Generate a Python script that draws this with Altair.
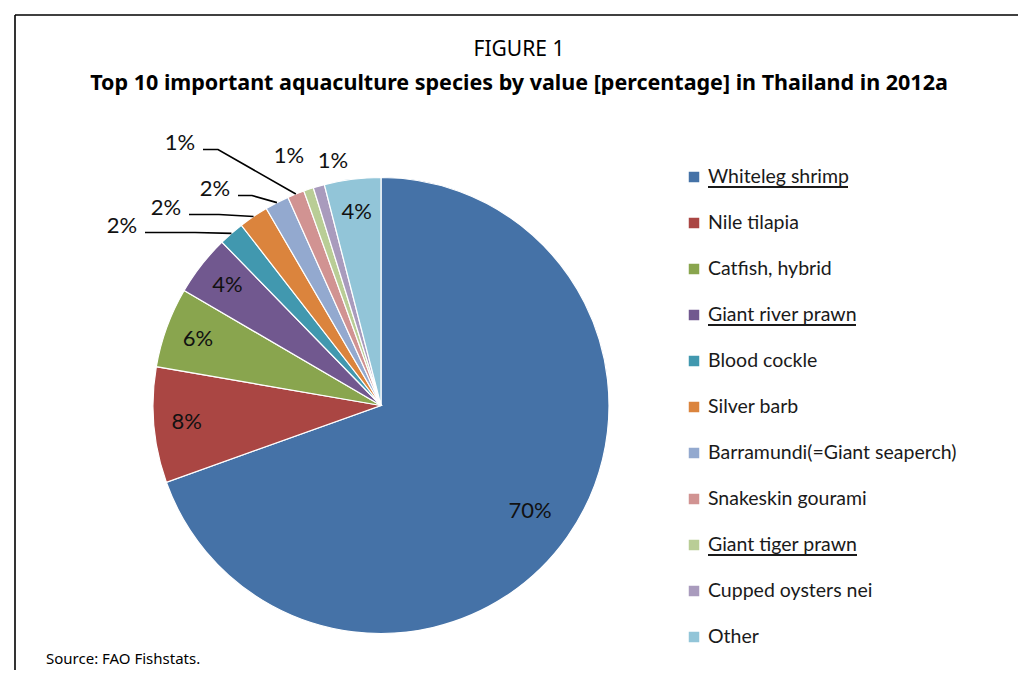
import math
import altair as alt
import pandas as pd

# ---------------- data ----------------
species = [
    "Whiteleg shrimp", "Nile tilapia", "Catfish, hybrid", "Giant river prawn",
    "Blood cockle", "Silver barb", "Barramundi(=Giant seaperch)",
    "Snakeskin gourami", "Giant tiger prawn", "Cupped oysters nei", "Other",
]
values = [69.6, 8.2, 5.7, 4.3, 1.8, 2.1, 1.7, 1.2, 0.7, 0.8, 4.0]
underlined = ["Whiteleg shrimp", "Giant river prawn", "Giant tiger prawn"]
colors = ["#4572A7", "#AA4643", "#89A54E", "#71588F", "#4198AF", "#DB843D",
          "#93A9CF", "#D19392", "#B9CD96", "#A99BBD", "#92C5D8"]

title_top = "FIGURE 1"
title_main = "Top 10 important aquaculture species by value [percentage] in Thailand in 2012a"
source_text = "Source: FAO Fishstats."

# ---------------- layout (style only) ----------------
W, H = 1010, 662
CX, CY, R = 373.0, 397.5, 228.0
LABEL_FONT = "Lato"
TITLE_FONT = "Noto Sans"
inside_r = {"Whiteleg shrimp": 0.80}
inside_default = 0.855
# outside labels: label centre offset from pie centre, elbow length
outside = {
    "Blood cockle": dict(dx=-259, dy=-180, elbow=50),
    "Silver barb": dict(dx=-215, dy=-198, elbow=30),
    "Barramundi(=Giant seaperch)": dict(dx=-166, dy=-217, elbow=14),
    "Snakeskin gourami": dict(dx=-201, dy=-263, elbow=15),
    "Giant tiger prawn": dict(dx=-92, dy=-250, elbow=None),
    "Cupped oysters nei": dict(dx=-48, dy=-245, elbow=None),
}
LEG_X, LEG_Y0, LEG_DY = 686, 169, 46.0

# ---------------- derived tables ----------------
total = sum(values)
pie_df = pd.DataFrame({"species": species, "value": values, "order": list(range(len(species)))})

lab_rows, line_rows = [], []
cum = 0.0
for i, (s, v) in enumerate(zip(species, values)):
    mid = (cum + v / 2) / total * 2 * math.pi
    cum += v
    txt = f"{round(v)}%"
    ex, ey = CX + R * math.sin(mid), CY - R * math.cos(mid)
    if s in outside:
        o = outside[s]
        lx, ly = CX + o["dx"], CY + o["dy"]
        lab_rows.append(dict(x=lx, y=ly, t=txt))
        if o["elbow"] is not None:
            sx, sy = lx + 23, ly + 7
            pts = [(sx, sy), (sx + o["elbow"], sy), (ex, ey)]
            for k, (px, py) in enumerate(pts):
                line_rows.append(dict(g=s, k=k, x=px, y=py))
    else:
        rf = inside_r.get(s, inside_default) * R
        lab_rows.append(dict(x=CX + rf * math.sin(mid), y=CY - rf * math.cos(mid), t=txt))
lab_df = pd.DataFrame(lab_rows)
line_df = pd.DataFrame(line_rows)

leg_df = pd.DataFrame({
    "species": species,
    "x": [LEG_X] * len(species),
    "tx": [LEG_X + 14] * len(species),
    "y": [LEG_Y0 + i * LEG_DY for i in range(len(species))],
})
ul_len = {"Whiteleg shrimp": 140, "Giant river prawn": 148, "Giant tiger prawn": 149}
ul_df = pd.DataFrame({
    "x": [LEG_X + 14 for s in underlined],
    "x2": [LEG_X + 14 + ul_len[s] for s in underlined],
    "y": [LEG_Y0 + species.index(s) * LEG_DY + 10 for s in underlined],
})
one = pd.DataFrame({"t1": [title_top], "t2": [title_main], "src": [source_text]})

xs = alt.Scale(domain=[0, W], nice=False, zero=False)
ys = alt.Scale(domain=[H, 0], nice=False, zero=False)
X = lambda f: alt.X(f, scale=xs, axis=None)
Y = lambda f: alt.Y(f, scale=ys, axis=None)
cscale = alt.Scale(domain=species, range=colors)

arcs = alt.Chart(pie_df).mark_arc(outerRadius=R, stroke="white", strokeWidth=1.2).encode(
    theta=alt.Theta("value:Q", stack=True),
    color=alt.Color("species:N", scale=cscale, legend=None),
    order=alt.Order("order:Q", sort="ascending"),
    x=alt.value(CX), y=alt.value(CY),
)

labels = alt.Chart(lab_df).mark_text(font=LABEL_FONT, fontSize=22, color="#111111",
                                     fontWeight="normal",
                                     align="center", baseline="middle").encode(
    x=X("x:Q"), y=Y("y:Q"), text="t:N")

leaders = alt.Chart(line_df).mark_line(color="black", strokeWidth=1.6).encode(
    x=X("x:Q"), y=Y("y:Q"), detail="g:N", order="k:Q")

leg_sq = alt.Chart(leg_df).mark_square(size=110, opacity=1).encode(
    x=X("x:Q"), y=Y("y:Q"),
    color=alt.Color("species:N", scale=cscale, legend=None))
leg_tx = alt.Chart(leg_df).mark_text(font=LABEL_FONT, fontSize=19.5, color="#1a1a1a",
                                     fontWeight="normal",
                                     align="left", baseline="middle").encode(
    x=X("tx:Q"), y=Y("y:Q"), text="species:N")
leg_ul = alt.Chart(ul_df).mark_rule(color="#1a1a1a", strokeWidth=1.8).encode(
    x=X("x:Q"), x2="x2:Q", y=Y("y:Q"))

frame_top = alt.Chart(one).mark_rule(color="black", strokeWidth=1.6).encode(
    x=alt.value(7), x2=alt.value(W), y=alt.value(7))
frame_left = alt.Chart(one).mark_rule(color="black", strokeWidth=1.6).encode(
    x=alt.value(7), y=alt.value(7), y2=alt.value(H))

t1 = alt.Chart(one).mark_text(font=TITLE_FONT, fontSize=21, color="black",
                              fontWeight="normal",
                              align="center", baseline="middle").encode(
    x=alt.value(511), y=alt.value(42), text="t1:N")
t2 = alt.Chart(one).mark_text(font=TITLE_FONT, fontSize=21.5, fontWeight="bold",
                              color="black", align="center", baseline="middle").encode(
    x=alt.value(511), y=alt.value(76), text="t2:N")
src = alt.Chart(one).mark_text(font=TITLE_FONT, fontSize=15, color="black",
                               fontWeight="normal",
                               align="left", baseline="middle").encode(
    x=alt.value(38), y=alt.value(651), text="src:N")

chart = alt.layer(frame_top, frame_left, t1, t2, src, arcs, leaders, labels,
                  leg_sq, leg_tx, leg_ul).properties(
    width=W, height=H, padding=0, autosize=alt.AutoSizeParams(type="none")
).configure_view(stroke=None)

chart.save("out.html", embed_options={"renderer": "svg", "actions": False})
